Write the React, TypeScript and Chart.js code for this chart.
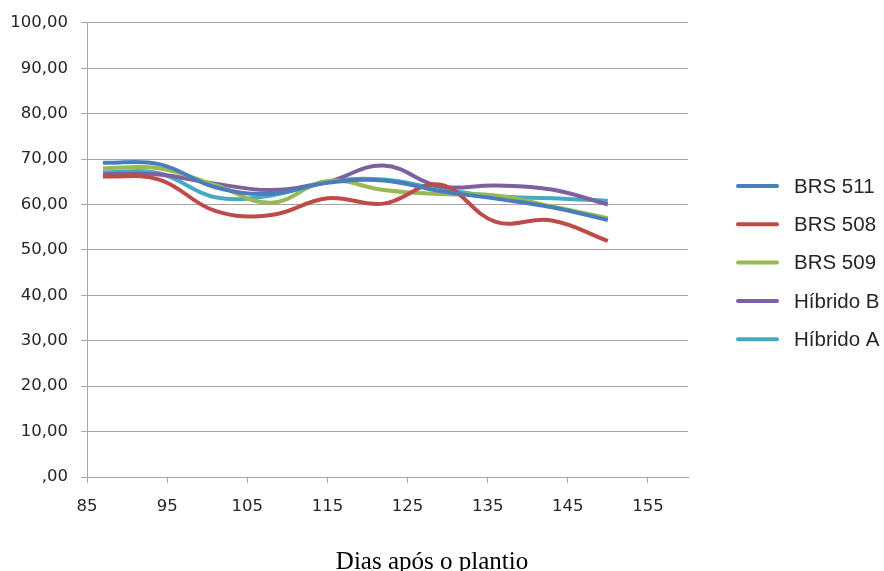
import { useEffect, useRef } from "react";
import { Chart, registerables } from "chart.js";

Chart.register(...registerables);

// ---- Data ----
const days = [87, 94, 101, 108, 115, 122, 129, 136, 143, 150];
const seriesNames = ["BRS 511", "BRS 508", "BRS 509", "Híbrido B", "Híbrido A"];
const brs511 = [69.2, 68.9, 63.8, 62.4, 64.8, 65.3, 63.0, 61.3, 59.4, 56.6];
const brs508 = [66.2, 65.5, 58.6, 57.7, 61.4, 60.2, 64.4, 56.2, 56.5, 52.0];
const brs509 = [68.0, 68.0, 64.3, 60.4, 65.2, 63.2, 62.3, 62.0, 59.6, 57.0];
const hibridoB = [66.7, 66.6, 64.6, 63.2, 65.0, 68.6, 64.0, 64.2, 63.3, 60.0];
const hibridoA = [67.1, 66.9, 61.6, 62.0, 65.0, 65.5, 63.4, 61.8, 61.4, 60.8];
const xTicks = [85, 95, 105, 115, 125, 135, 145, 155];
const xMin = 85;
const xMax = 160;
const yMin = 0;
const yMax = 100;
const yStep = 10;
const xTitle = "Dias após o plantio";

const seriesValues = [brs511, brs508, brs509, hibridoB, hibridoA];
const colors = ["#4A7EBB", "#BE4B48", "#98B954", "#7D60A0", "#46AAC5"];

const fmtY = (v: number) => {
  const s = v.toFixed(2).replace(".", ",");
  return s.startsWith("0,") ? s.slice(1) : s;
};

const sidePlugin = {
  id: "sideLegendAndTitle",
  afterDraw(chart: any) {
    const ctx = chart.ctx;
    ctx.save();
    chart.data.datasets.forEach((ds: any, i: number) => {
      const y = 186 + i * 38.3;
      ctx.strokeStyle = ds.borderColor;
      ctx.lineWidth = 4;
      ctx.lineCap = "round";
      ctx.beginPath();
      ctx.moveTo(738, y);
      ctx.lineTo(777, y);
      ctx.stroke();
      ctx.fillStyle = "#262626";
      ctx.font = "20.5px 'Liberation Sans', Arial, sans-serif";
      ctx.textAlign = "left";
      ctx.textBaseline = "middle";
      ctx.fillText(ds.label, 794, y + 1);
    });
    ctx.fillStyle = "#000";
    ctx.font = "25px 'Liberation Serif', 'Times New Roman', serif";
    ctx.textAlign = "center";
    ctx.textBaseline = "alphabetic";
    ctx.fillText(xTitle, 432, 569);
    ctx.restore();
  },
};

export default function App() {
  const ref = useRef<HTMLCanvasElement | null>(null);

  useEffect(() => {
    if (!ref.current) return;
    const chart = new Chart(ref.current, {
      type: "line",
      data: {
        datasets: seriesNames.map((name, i) => ({
          label: name,
          data: days.map((d, j) => ({ x: d, y: seriesValues[i][j] })),
          borderColor: colors[i],
          backgroundColor: colors[i],
          borderWidth: 4,
          pointRadius: 0,
          tension: 0.4,
          fill: false,
        })),
      },
      options: {
        responsive: false,
        animation: false,
        devicePixelRatio: 1,
        layout: { padding: { top: 20, right: 196, left: 0, bottom: 0 } },
        plugins: {
          legend: { display: false },
          tooltip: { enabled: false },
        },
        scales: {
          x: {
            type: "linear",
            min: xMin,
            max: xMax,
            afterBuildTicks: (scale: any) => {
              scale.ticks = xTicks.map((v) => ({ value: v }));
            },
            afterFit: (scale: any) => {
              scale.height = 94;
            },
            grid: {
              drawOnChartArea: false,
              drawTicks: true,
              tickLength: 6,
              color: "#a6a6a6",
            },
            border: { display: true, color: "#a6a6a6", width: 1 },
            ticks: {
              color: "#262626",
              padding: 14,
              maxRotation: 0,
              font: { family: "'DejaVu Sans', sans-serif", size: 16.5 },
              callback: (v: any) => String(v),
            },
          },
          y: {
            min: yMin,
            max: yMax,
            afterFit: (scale: any) => {
              scale.width = 87;
            },
            grid: {
              color: "#a6a6a6",
              drawTicks: true,
              tickLength: 6,
            },
            border: { display: true, color: "#a6a6a6", width: 1 },
            ticks: {
              stepSize: yStep,
              color: "#262626",
              padding: 13,
              font: { family: "'DejaVu Sans', sans-serif", size: 16.5 },
              callback: (v: any) => fmtY(Number(v)),
            },
          },
        },
      },
      plugins: [sidePlugin],
    } as any);
    return () => chart.destroy();
  }, []);

  return (
    <div style={{ position: "fixed", left: 0, top: 0, width: 884, height: 571, background: "#fff" }}>
      <canvas ref={ref} width={884} height={571} style={{ width: 884, height: 571 }} />
    </div>
  );
}
